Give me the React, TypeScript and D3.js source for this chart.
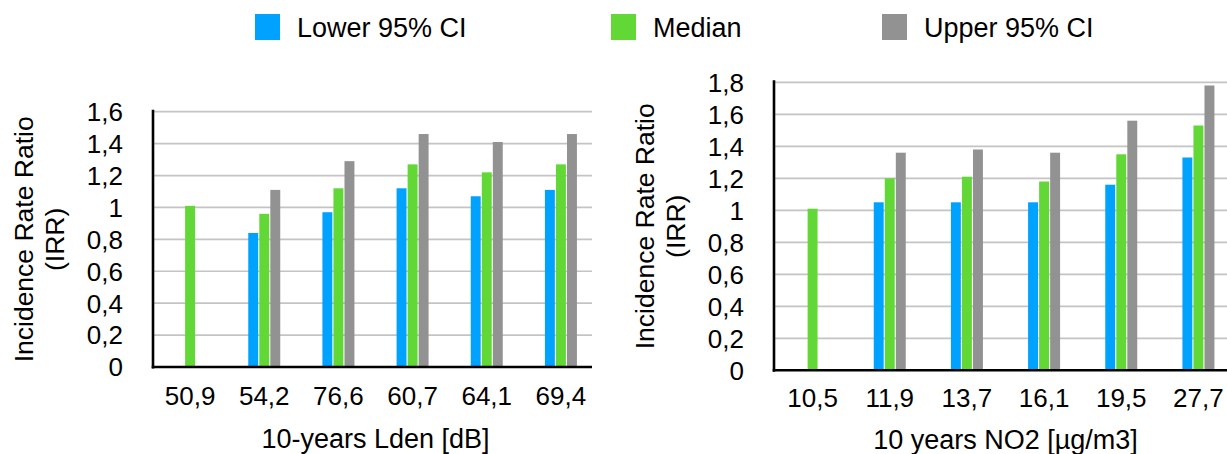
import React from "react";
import * as d3 from "d3";

const seriesNames = ["Lower 95% CI", "Median", "Upper 95% CI"];
const seriesColors = ["#00a2ff", "#61d836", "#929292"];

const ldenCategories = ["50,9", "54,2", "76,6", "60,7", "64,1", "69,4"];
const ldenLower = [null, 0.84, 0.97, 1.12, 1.07, 1.11];
const ldenMedian = [1.01, 0.96, 1.12, 1.27, 1.22, 1.27];
const ldenUpper = [null, 1.11, 1.29, 1.46, 1.41, 1.46];
const ldenTicks = [0, 0.2, 0.4, 0.6, 0.8, 1, 1.2, 1.4, 1.6];

const no2Categories = ["10,5", "11,9", "13,7", "16,1", "19,5", "27,7"];
const no2Lower = [null, 1.05, 1.05, 1.05, 1.16, 1.33];
const no2Median = [1.01, 1.2, 1.21, 1.18, 1.35, 1.53];
const no2Upper = [null, 1.36, 1.38, 1.36, 1.56, 1.78];
const no2Ticks = [0, 0.2, 0.4, 0.6, 0.8, 1, 1.2, 1.4, 1.6, 1.8];

const FONT = "'Liberation Sans', Helvetica, Arial, sans-serif";
const fmt = (v: number) => (Math.round(v * 10) / 10).toString().replace(".", ",");

type ChartProps = {
  categories: string[];
  series: (number | null)[][];
  ticks: number[];
  xTitle: string;
  left: number;
  right: number;
  gridRight: number;
  top: number;
  bottom: number;
  yTitleX: number;
  xLabelY: number;
  xTitleY: number;
};

function BarChart(p: ChartProps) {
  const maxV = p.ticks[p.ticks.length - 1];
  const y = d3.scaleLinear().domain([0, maxV]).range([p.bottom, p.top]);
  const x0 = d3.scaleBand<string>().domain(p.categories).range([p.left, p.right]);
  const x1 = d3.scaleBand<string>().domain(seriesNames).range([-16, 16]).paddingInner(0.1);
  const midY = (p.top + p.bottom) / 2;
  return (
    <g>
      {p.ticks.map((t) => (
        <g key={t}>
          {t > 0 && (
            <line x1={p.left} x2={p.gridRight} y1={y(t)} y2={y(t)} stroke="#c4c4c4" strokeWidth={1.7} />
          )}
          <text x={p.left - 30} y={y(t)} dy="0.36em" textAnchor="end" fontSize={26} fontFamily={FONT} fill="#000">
            {fmt(t)}
          </text>
        </g>
      ))}
      {p.categories.map((c, i) => {
        const cx = (x0(c) as number) + x0.bandwidth() / 2;
        return (
          <g key={c}>
            {p.series.map((s, si) => {
              const v = s[i];
              if (v == null) return null;
              return (
                <rect
                  key={si}
                  x={cx + (x1(seriesNames[si]) as number)}
                  width={x1.bandwidth()}
                  y={y(v)}
                  height={y(0) - y(v)}
                  fill={seriesColors[si]}
                />
              );
            })}
            <text x={cx} y={p.xLabelY} textAnchor="middle" fontSize={26} fontFamily={FONT} fill="#000">
              {c}
            </text>
          </g>
        );
      })}
      <line x1={p.left} x2={p.left} y1={p.top - 2} y2={p.bottom + 1.5} stroke="#000" strokeWidth={2.6} />
      <line x1={p.left - 1.3} x2={p.gridRight} y1={p.bottom} y2={p.bottom} stroke="#000" strokeWidth={2.6} />
      <text x={(p.left + p.right) / 2} y={p.xTitleY} textAnchor="middle" fontSize={27} fontFamily={FONT} fill="#000">
        {p.xTitle}
      </text>
      <text transform={`translate(${p.yTitleX},${midY}) rotate(-90)`} textAnchor="middle" fontSize={26.5} fontFamily={FONT} fill="#000">
        <tspan x={0} y={0}>Incidence Rate Ratio</tspan>
        <tspan x={0} y={31}>(IRR)</tspan>
      </text>
    </g>
  );
}

const legendX = [255, 611, 882];

export default function App() {
  return (
    <svg width={1227} height={454} style={{ position: "absolute", left: 0, top: 0, background: "#fff" }}>
      <rect width={1227} height={454} fill="#fff" />
      {seriesNames.map((n, i) => (
        <g key={n}>
          <rect x={legendX[i]} y={14} width={25} height={26} fill={seriesColors[i]} />
          <text x={legendX[i] + 42} y={37} fontSize={27} fontFamily={FONT} fill="#000">
            {n}
          </text>
        </g>
      ))}
      <BarChart
        categories={ldenCategories}
        series={[ldenLower, ldenMedian, ldenUpper]}
        ticks={ldenTicks}
        xTitle="10-years Lden [dB]"
        left={153}
        right={598}
        gridRight={592}
        top={111.7}
        bottom={367}
        yTitleX={33}
        xLabelY={405}
        xTitleY={448}
      />
      <BarChart
        categories={no2Categories}
        series={[no2Lower, no2Median, no2Upper]}
        ticks={no2Ticks}
        xTitle="10 years NO2 [µg/m3]"
        left={774}
        right={1237}
        gridRight={1240}
        top={82.3}
        bottom={370.3}
        yTitleX={654}
        xLabelY={407}
        xTitleY={449}
      />
    </svg>
  );
}
